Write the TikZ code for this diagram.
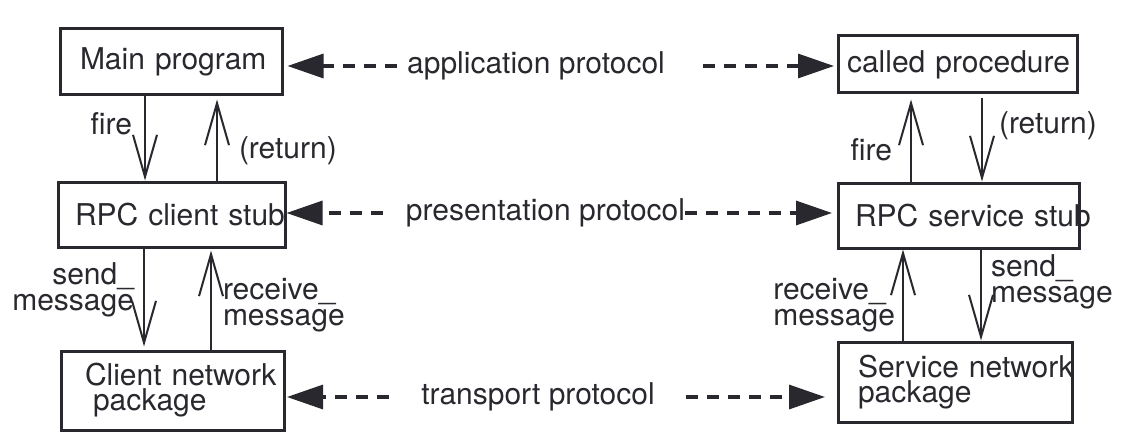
\documentclass[tikz,border=0pt]{standalone}
\usepackage{fontspec}
\setmainfont{TeX Gyre Heros}
\usetikzlibrary{arrows.meta,positioning}
\definecolor{ink}{RGB}{40,40,46}

\begin{document}
\begin{tikzpicture}[x=0.5pt,y=-0.5pt,ink,
  every node/.style={font=\fontsize{15}{12.5}\selectfont},
  box/.style={draw,line width=1.5pt,align=left},
  call/.style={line width=1pt,-{Straight Barb[length=21pt,width=12pt]}},
  proto/.style={line width=1.6pt,dash pattern=on 6pt off 4.5pt,-{Triangle[length=18pt,width=12pt]}},
  lbl/.style={inner sep=0pt,font=\fontsize{15}{13}\selectfont}]
  \useasboundingbox (0,0) rectangle (1134,444);

  % client side
  \node[box,text width=91pt,inner xsep=10pt,minimum height=33pt] (main) at (171,62) {\mbox{Main program}};
  \node[box,text width=96.5pt,inner xsep=8.5pt,minimum height=32.5pt] (cstub) at (171.5,214.5) {\mbox{RPC client stub}};
  \node[box,text width=87.5pt,inner xsep=12pt,minimum height=39.5pt] (cnet) at (172.5,390.5) {\mbox{Client network}\\\hspace*{4pt}package};

  % service side
  \node[box,text width=110.5pt,inner xsep=4.5pt,minimum height=28.5pt] (called) at (957.5,64.5) {\mbox{called procedure}};
  \node[box,text width=103.5pt,inner xsep=8.5pt,minimum height=32.5pt] (sstub) at (958.5,215.5) {\mbox{RPC service stub}};
  \node[box,text width=97pt,inner xsep=10pt,minimum height=40pt] (snet) at (955,382) {\mbox{Service network}\\package};

  % protocols
  \node[inner sep=0pt] (app) at (536,66) {application protocol};
  \node[inner sep=0pt] (pres) at (545.5,213) {presentation protocol};
  \node[inner sep=0pt] (trans) at (538,397) {transport protocol};
  \draw[proto,shorten <=5pt,shorten >=2pt] (app.west) -- (main.east |- app);
  \draw[proto,shorten <=19pt,shorten >=1.25pt] (app.east) -- (called.west |- app);
  \draw[proto,shorten <=11.5pt] (pres.west) -- (cstub.east |- pres);
  \draw[proto,shorten >=2.25pt] (pres.east) -- (sstub.west |- pres);
  \draw[proto,shorten <=16pt,shorten >=0.75pt] (trans.west) -- (cnet.east |- trans);
  \draw[proto,shorten <=15.5pt,shorten >=5.75pt] (trans.east) -- (snet.west |- trans);

  % calls, client
  \draw[call] ([xshift=-13pt]main.south) -- node[lbl,left=6pt,pos=0.32] {fire} ([xshift=-13.25pt]cstub.north);
  \draw[call,shorten >=1.5pt] ([xshift=22.75pt]cstub.north) -- node[lbl,right=10.5pt,pos=0.36] {(return)} ([xshift=23pt]main.south);
  \draw[call,shorten >=1.5pt] ([xshift=-13.75pt]cstub.south) -- node[lbl,left=4.5pt,pos=0.41,align=right] {send\_\\message} ([xshift=-14.25pt]cnet.north);
  \draw[call,shorten >=1pt] ([xshift=19.25pt]cnet.north) -- node[lbl,right=5.5pt,pos=0.44,align=left] {receive\_\\message} ([xshift=19.75pt]cstub.south);

  % calls, service
  \draw[call,shorten >=2.5pt] ([xshift=-23.75pt]sstub.north) -- node[lbl,left=9pt,pos=0.37] {fire} ([xshift=-23.25pt]called.south);
  \draw[call,shorten <=2pt] ([xshift=12.25pt]called.south) -- node[lbl,right=8pt,pos=0.36] {(return)} ([xshift=11.75pt]sstub.north);
  \draw[call] ([xshift=-26pt]snet.north) -- node[lbl,left=3.5pt,pos=0.39,align=left] {receive\_\\message} ([xshift=-27.75pt]sstub.south);
  \draw[call] ([xshift=11.25pt]sstub.south) -- node[lbl,right=4.5pt,pos=0.35,align=left] {send\_\\message} ([xshift=13pt]snet.north);
\end{tikzpicture}
\end{document}
